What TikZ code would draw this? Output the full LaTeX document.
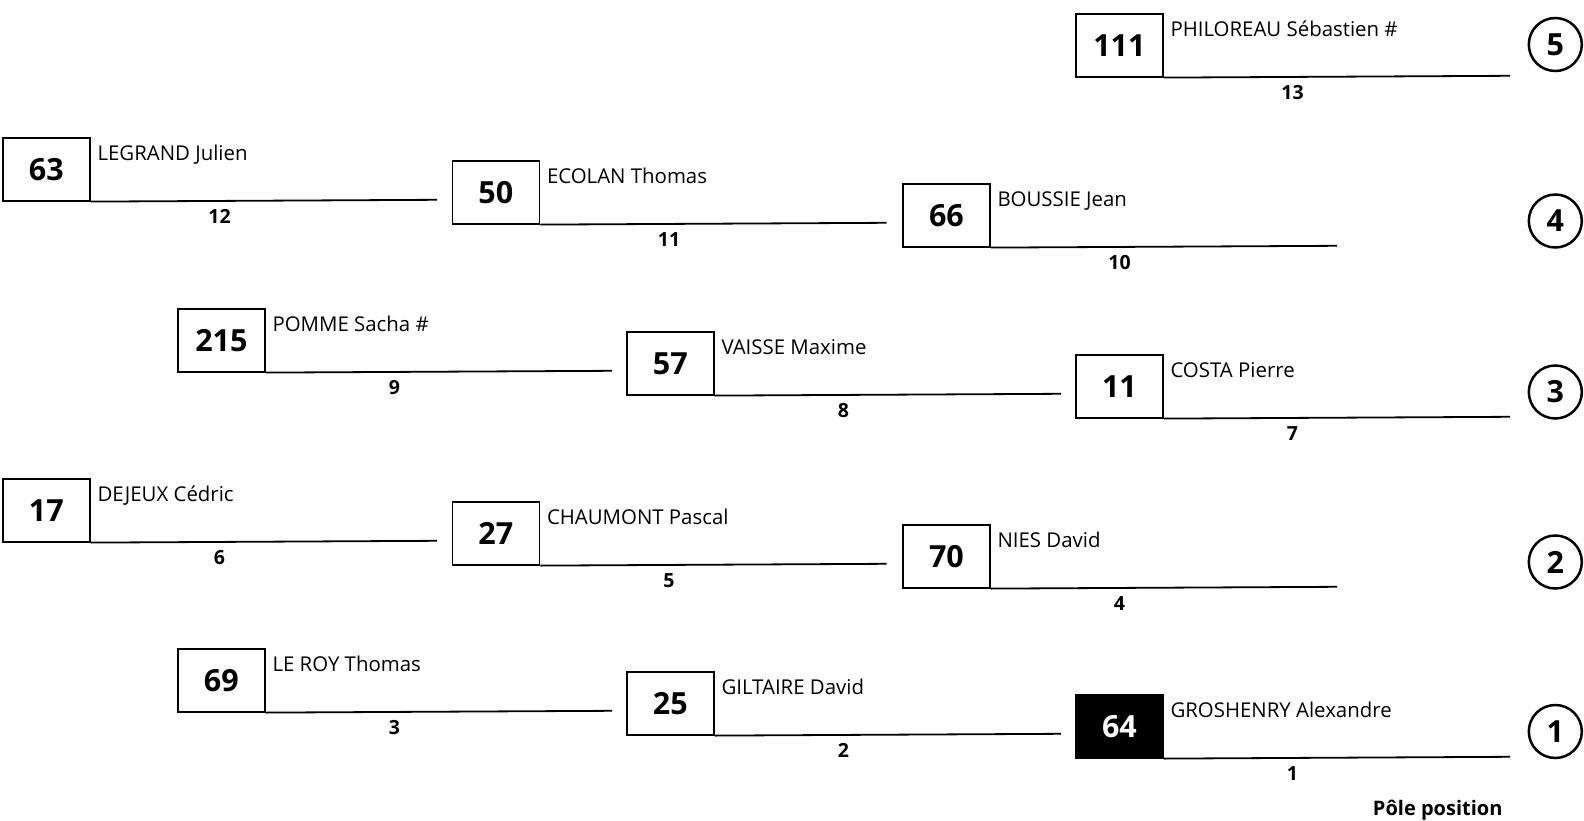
\documentclass[tikz,border=0pt]{standalone}
\usepackage{fontspec}
\setmainfont{Open Sans}
\usetikzlibrary{calc}
\tikzset{
 numbox/.style={draw, line width=1.8pt, minimum width=87pt, minimum height=62.5pt, inner sep=0pt, anchor=north west, font=\fontsize{30.5}{36}\selectfont\bfseries},
 polebox/.style={numbox, fill=black, text=white},
 rule/.style={line width=1.8pt},
 racername/.style={anchor=base west, inner sep=0pt, font=\fontsize{20.4}{24}\selectfont},
 poslabel/.style={inner sep=0pt, font=\fontsize{19.5}{23}\selectfont\bfseries},
 rowcirc/.style={draw, circle, line width=2.5pt, minimum size=53pt, inner sep=0pt, font=\fontsize{30.5}{36}\selectfont\bfseries},
 caption/.style={anchor=base, inner sep=0pt, font=\fontsize{20}{24}\selectfont\bfseries},
}
\newcommand\racer[7][numbox]{%
 \node[#1] (b#2) at (#3,#4) {#5};
 \coordinate (e#2) at (#3+435,#4+62.5);
 \draw[rule] (b#2.south east) -- (e#2);
 \node[racername] (n#2) at ($(b#2.north east)+(6.5,23.5)$) {#6};
 \node[poslabel] (l#2) at (#3+217.5,#4+79.5) {#7};
}
\begin{document}
\begin{tikzpicture}[x=1pt,y=-1pt]
\useasboundingbox (0,0) rectangle (1584,821);
\racer{13}{1075}{13.3}{111}{PHILOREAU Sébastien \#}{13}
\racer{12}{2}{137.3}{63}{LEGRAND Julien}{12}
\racer{11}{451.5}{160.3}{50}{ECOLAN Thomas}{11}
\racer{10}{902}{183.3}{66}{BOUSSIE Jean}{10}
\racer{9}{177}{308.3}{215}{POMME Sacha \#}{9}
\racer{8}{626}{331.3}{57}{VAISSE Maxime}{8}
\racer{7}{1075}{354.3}{11}{COSTA Pierre}{7}
\racer{6}{2}{478.3}{17}{DEJEUX Cédric}{6}
\racer{5}{451.5}{501.3}{27}{CHAUMONT Pascal}{5}
\racer{4}{902}{524.3}{70}{NIES David}{4}
\racer{3}{177}{648.3}{69}{LE ROY Thomas}{3}
\racer{2}{626}{671.3}{25}{GILTAIRE David}{2}
\racer[polebox]{1}{1075}{694.3}{64}{GROSHENRY Alexandre}{1}
\node[rowcirc] (c5) at (1555.3,44.5) {5};
\node[rowcirc] (c4) at (1555.3,221) {4};
\node[rowcirc] (c3) at (1555.3,392) {3};
\node[rowcirc] (c2) at (1555.3,562) {2};
\node[rowcirc] (c1) at (1555.3,731.5) {1};
\node[caption] (pole) at (1437.7,815) {Pôle position};
\end{tikzpicture}
\end{document}
